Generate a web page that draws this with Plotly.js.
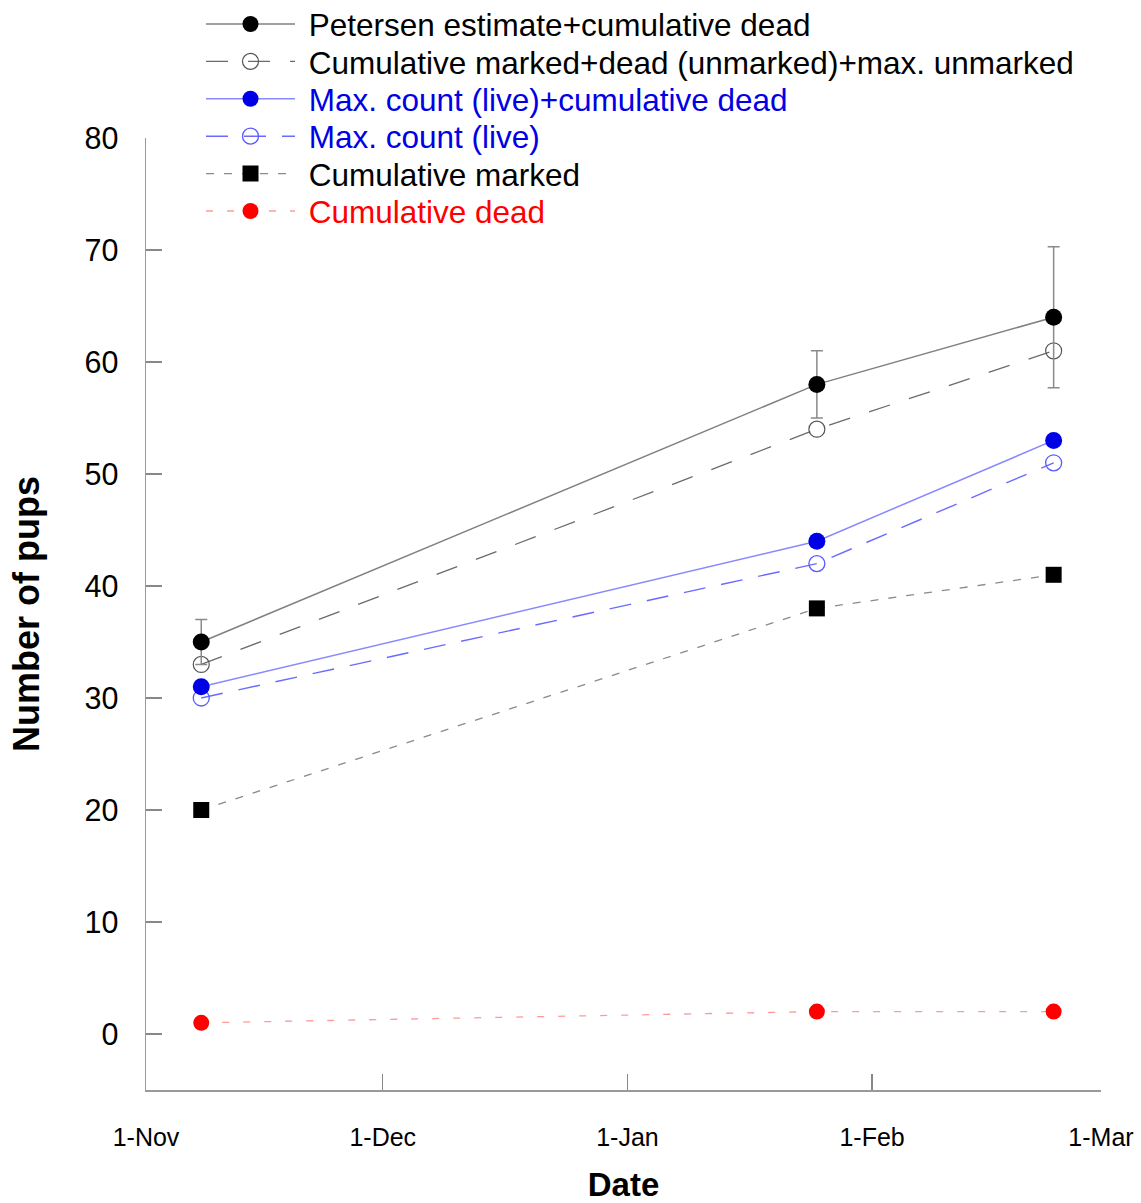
<!DOCTYPE html>
<html>
<head>
<meta charset="utf-8">
<script src="https://cdn.plot.ly/plotly-3.0.1.min.js"></script>
<style>html,body{margin:0;padding:0;background:#fff;}</style>
</head>
<body>
<div id="chart" style="width:1141px;height:1203px;"></div>
<script>
// ---- data ----
var dates = ['2011-11-08', '2012-01-25', '2012-02-24'];
var petersen = [35, 58, 64];
var petersenErr = [2, 3, 6.3];
var markedDeadUnmarked = [33, 54, 61];
var maxCountPlusDead = [31, 44, 53];
var maxCountLive = [30, 42, 51];
var cumMarked = [20, 38, 41];
var cumDead = [1, 2, 2];

var seriesNames = [
  'Petersen estimate+cumulative dead',
  'Cumulative marked+dead (unmarked)+max. unmarked',
  'Max. count (live)+cumulative dead',
  'Max. count (live)',
  'Cumulative marked',
  'Cumulative dead'
];
var tickVals = ['2011-11-01', '2011-12-01', '2012-01-01', '2012-02-01', '2012-03-01'];
var tickText = ['1-Nov', '1-Dec', '1-Jan', '1-Feb', '1-Mar'];
var xRange = ['2011-11-01', '2012-03-01'];
var yRange = [-5, 80];

var FONT = 'Liberation Sans, Arial, sans-serif';
var NB = '\u00a0';

var traces = [
  {
    x: dates, y: cumDead, name: NB + seriesNames[5], legend: 'legend6',
    mode: 'lines+markers', type: 'scatter',
    line: {color: '#ff9a9a', width: 1.3, dash: '7px,14px'},
    marker: {color: '#ff0000', size: 16, symbol: 'circle'}
  },
  {
    x: dates, y: cumMarked, name: NB + seriesNames[4], legend: 'legend5',
    mode: 'lines+markers', type: 'scatter',
    line: {color: '#8a8a8a', width: 1.3, dash: '8px,10px'},
    marker: {color: '#000000', size: 16, symbol: 'square'}
  },
  {
    x: dates, y: maxCountLive, name: NB + seriesNames[3], legend: 'legend4',
    mode: 'lines+markers', type: 'scatter',
    line: {color: '#6a6aff', width: 1.4, dash: '22px,16px'},
    marker: {color: '#5a5aff', size: 16, symbol: 'circle-open', line: {width: 1.3}}
  },
  {
    x: dates, y: maxCountPlusDead, name: NB + seriesNames[2], legend: 'legend3',
    mode: 'lines+markers', type: 'scatter',
    line: {color: '#8888ff', width: 1.5},
    marker: {color: '#0000e6', size: 17, symbol: 'circle'}
  },
  {
    x: dates, y: markedDeadUnmarked, name: NB + seriesNames[1], legend: 'legend2',
    mode: 'lines+markers', type: 'scatter',
    line: {color: '#6a6a6a', width: 1.3, dash: '22px,20px'},
    marker: {color: '#555555', size: 16, symbol: 'circle-open', line: {width: 1.2}}
  },
  {
    x: dates, y: petersen, name: NB + seriesNames[0], legend: 'legend',
    mode: 'lines+markers', type: 'scatter',
    line: {color: '#808080', width: 1.5},
    marker: {color: '#000000', size: 17, symbol: 'circle'},
    error_y: {type: 'data', array: petersenErr, visible: true, color: '#8a8a8a', thickness: 1.5, width: 6}
  }
];

var plotL = 146, plotR = 1101, plotT = 138, plotB = 1090;
function px2paperY(py) { return (plotB - py) / (plotB - plotT); }
function px2paperX(px) { return (px - plotL) / (plotR - plotL); }

function legendAt(rowY, color) {
  return {
    x: px2paperX(201), xanchor: 'left',
    y: px2paperY(rowY), yanchor: 'middle',
    xref: 'paper', yref: 'paper',
    bgcolor: 'rgba(0,0,0,0)', borderwidth: 0,
    itemwidth: 89,
    font: {family: FONT, size: 31.5, color: color}
  };
}

var layout = {
  width: 1141, height: 1203,
  margin: {l: plotL, r: 1141 - plotR, t: plotT, b: 1203 - plotB, pad: 0, autoexpand: false},
  paper_bgcolor: '#ffffff', plot_bgcolor: '#ffffff',
  font: {family: FONT, color: '#000000'},
  showlegend: true,
  legend: legendAt(24, '#000000'),
  legend2: legendAt(61.4, '#000000'),
  legend3: legendAt(98.8, '#0000e6'),
  legend4: legendAt(136.2, '#0000e6'),
  legend5: legendAt(173.6, '#000000'),
  legend6: legendAt(211, '#ff0000'),
  xaxis: {
    type: 'date', range: xRange, automargin: false,
    tickmode: 'array', tickvals: tickVals, ticktext: tickText,
    ticks: 'inside', ticklen: 16, tickwidth: 1.3, tickcolor: '#888888',
    showline: true, linecolor: '#999999', linewidth: 1.5,
    showgrid: false, zeroline: false,
    tickfont: {family: FONT, size: 25, color: '#000000'},
    ticklabelstandoff: 24,
    title: {text: '<b>Date</b>', font: {family: FONT, size: 33, color: '#000000'}, standoff: 24}
  },
  yaxis: {
    range: yRange, tickmode: 'linear', tick0: 0, dtick: 10, automargin: false,
    ticks: 'inside', ticklen: 16, tickwidth: 1.3, tickcolor: '#888888',
    showline: true, linecolor: '#999999', linewidth: 1.5,
    showgrid: false, zeroline: false,
    tickfont: {family: FONT, size: 30.5, color: '#000000'},
    ticklabelstandoff: 20,
    title: {text: '<b>Number of pups</b>', font: {family: FONT, size: 36, color: '#000000'}, standoff: 34}
  }
};

Plotly.newPlot('chart', traces, layout, {staticPlot: true, displayModeBar: false});
</script>
</body>
</html>
